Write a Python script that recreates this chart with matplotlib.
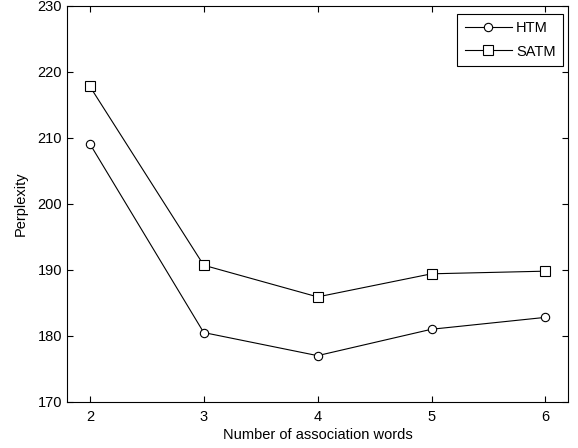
import matplotlib
matplotlib.use("Agg")
import matplotlib.pyplot as plt

# Datos
words = [2, 3, 4, 5, 6]
htm = [209.1, 180.5, 177.0, 181.0, 182.8]
satm = [217.8, 190.7, 185.9, 189.4, 189.8]

plt.rcParams['font.family'] = ['Liberation Sans', 'DejaVu Sans']
plt.rcParams['font.size'] = 10.5

fig = plt.figure(figsize=(5.78, 4.48), dpi=100)
ax = fig.add_axes([0.116, 0.103, 0.867, 0.884])

ax.plot(words, htm, color='black', lw=0.8, marker='o', ms=6,
        mfc='white', mec='black', mew=0.8, label="HTM")
ax.plot(words, satm, color='black', lw=0.8, marker='s', ms=6.5,
        mfc='white', mec='black', mew=0.8, label="SATM")

ax.set_xlim(1.8, 6.2)
ax.set_ylim(170, 230)
ax.set_xticks(words)
ax.set_yticks(range(170, 231, 10))
ax.tick_params(direction='in', top=True, right=True, length=4, width=0.8)
ax.tick_params(axis='x', pad=6)
for s in ax.spines.values():
    s.set_linewidth(0.8)

ax.set_xlabel("Number of association words", labelpad=3)
ax.set_ylabel("Perplexity", labelpad=7)

leg = ax.legend(loc='upper right', bbox_to_anchor=(0.990, 0.980),
                borderaxespad=0, fancybox=False, edgecolor='black',
                framealpha=1, handlelength=3.2, handletextpad=0.3,
                labelspacing=0.63, borderpad=0.52)
leg.get_frame().set_linewidth(0.8)

fig.savefig("out.png", dpi=100)
